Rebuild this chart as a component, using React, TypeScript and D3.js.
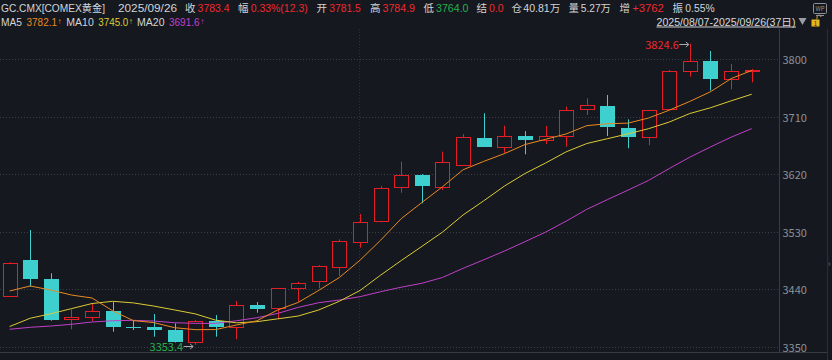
import React from 'react';
import * as d3 from 'd3';

const W = 832;
const H = 360;

// ---- data ----
const dates = ['08/07','08/08','08/11','08/12','08/13','08/14','08/15','08/18','08/19','08/20','08/21','08/22','08/25','08/26','08/27','08/28','08/29','09/01','09/02','09/03','09/04','09/05','09/08','09/09','09/10','09/11','09/12','09/15','09/16','09/17','09/18','09/19','09/22','09/23','09/24','09/25','09/26'];
const opens = [3430.2,3486.1,3456.3,3393.3,3397.4,3406.3,3381.7,3381.3,3376.6,3357.3,3390.6,3381.7,3415.7,3410.5,3441.8,3452.7,3475.6,3513.7,3546.6,3599.8,3619.0,3600.7,3635.1,3676.9,3662.4,3680.0,3673.3,3680.5,3721.8,3727.0,3692.1,3678.0,3721.8,3782.2,3796.9,3768.7,3781.5];
const highs = [3482.5,3533.0,3465.3,3409.0,3418.3,3420.8,3391.1,3401.6,3387.0,3392.2,3400.0,3422.0,3420.3,3442.5,3452.0,3478.2,3518.4,3558.0,3601.8,3639.8,3620.5,3655.5,3683.0,3715.5,3696.1,3687.8,3695.7,3725.9,3739.0,3744.2,3706.1,3721.0,3783.3,3824.6,3813.0,3792.6,3784.9];
const lows = [3428.5,3444.3,3391.0,3377.7,3390.6,3373.9,3376.6,3366.1,3357.0,3353.4,3366.1,3362.0,3403.6,3393.3,3420.8,3441.8,3461.0,3505.3,3545.0,3591.3,3574.8,3595.6,3634.0,3663.0,3653.0,3651.4,3667.5,3663.3,3712.9,3680.0,3660.8,3665.5,3721.0,3772.8,3750.9,3753.1,3764.0];
const closes = [3480.9,3456.3,3392.2,3397.4,3406.3,3380.8,3379.7,3376.6,3357.8,3390.6,3381.7,3415.2,3409.9,3441.8,3450.1,3476.2,3515.8,3545.0,3598.2,3619.0,3602.3,3638.9,3678.0,3663.3,3679.6,3673.3,3680.0,3720.2,3728.0,3694.6,3678.0,3720.2,3781.2,3796.9,3769.7,3781.2,3783.4];

// moving-average values before the window fills
const ma5Head = [3437.6,3445.4,3439.1,3431.3];
const ma10Head = [3382.0,3395.0,3402.0,3410.0,3418.0,3421.5,3419.0,3414.0,3408.0];
const ma20Head = [3377.7,3380.8,3382.8,3385.5,3389.1,3391.1,3391.7,3390.6,3388.0,3387.0,3387.0,3391.0,3395.8,3402.5,3412.0,3419.3,3423.5,3428.7,3436.5];

const yTicks = [3350, 3440, 3530, 3620, 3710, 3800];
const monthStart = '09/01';

const header1Texts = ['GC.CMX[COMEX黄金]','2025/09/26','收','3783.4','幅','0.33%(12.3)','开','3781.5','高','3784.9','低','3764.0','结','0.0','仓','40.81万','量','5.27万','增','+3762','振','0.55%'];
const header2Texts = ['MA5','3782.1','↑','MA10','3745.0','↑','MA20','3691.6','↑'];
const rangeText = '2025/08/07-2025/09/26(37日)';
const maxLabel = '3824.6';
const minLabel = '3353.4';

// ---- layout / styles ----
const header1Layout = [
  { x: 1, w: 104, c: 'label', fs: 10.5 }, { x: 118, w: 59, c: 'label', fs: 10.5 },
  { x: 185, w: 0, c: 'label', fs: 10.5 }, { x: 197.6, w: 32, c: 'up', fs: 10.5 },
  { x: 238, w: 0, c: 'label', fs: 10.5 }, { x: 250.7, w: 57, c: 'up', fs: 10.5 },
  { x: 316.5, w: 0, c: 'label', fs: 10.5 }, { x: 329.3, w: 31.5, c: 'up', fs: 10.5 },
  { x: 370, w: 0, c: 'label', fs: 10.5 }, { x: 382.5, w: 32.5, c: 'up', fs: 10.5 },
  { x: 423.5, w: 0, c: 'label', fs: 10.5 }, { x: 436, w: 32.5, c: 'down', fs: 10.5 },
  { x: 476.5, w: 0, c: 'label', fs: 10.5 }, { x: 489, w: 14.5, c: 'up', fs: 10.5 },
  { x: 511.5, w: 0, c: 'label', fs: 10.5 }, { x: 523.3, w: 37, c: 'label', fs: 10.5 },
  { x: 568.5, w: 0, c: 'label', fs: 10.5 }, { x: 580.8, w: 30, c: 'label', fs: 10.5 },
  { x: 619.5, w: 0, c: 'label', fs: 10.5 }, { x: 632.3, w: 31.5, c: 'up', fs: 10.5 },
  { x: 672.5, w: 0, c: 'label', fs: 10.5 }, { x: 685.3, w: 29.3, c: 'label', fs: 10.5 },
];
const header2Layout = [
  { x: 1, w: 21, c: 'label', fs: 10.5 }, { x: 26.5, w: 30.5, c: 'ma5', fs: 10.5 }, { x: 57.6, w: 4, c: 'ma5', fs: 8 },
  { x: 66.3, w: 27.5, c: 'label', fs: 10.5 }, { x: 98.3, w: 30, c: 'ma10', fs: 10.5 }, { x: 128.8, w: 4, c: 'ma10', fs: 8 },
  { x: 137, w: 27.5, c: 'label', fs: 10.5 }, { x: 169, w: 30.5, c: 'ma20', fs: 10.5 }, { x: 200.2, w: 4, c: 'ma20', fs: 8 },
];

const BG = '#15181e';
const UP = '#e41e26';
const DOWN = '#3ecfcf';
const GRID = '#3a3e46';
const AXIS = '#383c43';
const COLORS: Record<string, string> = {
  label: '#d2d4d8',
  up: '#f0282f',
  down: '#22b24c',
  ma5: '#ea8a22',
  ma10: '#dccb34',
  ma20: '#c040c8',
};
const FONT = '"Noto Sans CJK SC", "Noto Sans", sans-serif';
const HFONT = '"Liberation Sans", "Noto Sans CJK SC", sans-serif';

function movingAvg(head: number[], n: number): number[] {
  return closes.map((_, i) =>
    i < head.length ? head[i] : (d3.mean(closes.slice(i - n + 1, i + 1)) as number)
  );
}

function HeaderText({ t, x, y, w, c, fs }: { t: string; x: number; y: number; w: number; c: string; fs: number }) {
  const extra = w > 0 ? { textLength: w, lengthAdjust: 'spacingAndGlyphs' } : {};
  return (
    <text x={x} y={y} fontSize={fs} fontFamily={HFONT} fill={COLORS[c]} dominantBaseline="central" {...(extra as any)}>
      {t}
    </text>
  );
}

export default function App() {
  const x = d3.scalePoint<string>().domain(dates).range([9.6, 751.7]);
  const y = d3.scaleLinear().domain([3350, 3800]).range([347, 59.3]);
  const bw = x.step() * 0.74;

  const ma5 = movingAvg(ma5Head, 5);
  const ma10 = movingAvg(ma10Head, 10);
  const ma20 = movingAvg(ma20Head, 20);

  const line = d3
    .line<number>()
    .x((_, i) => x(dates[i]) as number)
    .y((d) => y(d));

  const iMax = d3.maxIndex(highs);
  const iMin = d3.minIndex(lows);
  const maxX = x(dates[iMax]) as number;
  const maxY = y(highs[iMax]);
  const minX = x(dates[iMin]) as number;
  const minY = y(lows[iMin]);

  const plotRight = 779.5;

  return (
    <svg
      width={W}
      height={H}
      style={{ position: 'absolute', left: 0, top: 0, display: 'block' }}
      fontFamily={FONT}
    >
      <rect x={0} y={0} width={W} height={H} fill={BG} />

      {/* header */}
      {header1Texts.map((t, i) => (
        <HeaderText key={'h1' + i} t={t} y={7.5} {...header1Layout[i]} />
      ))}
      {header2Texts.map((t, i) => (
        <HeaderText key={'h2' + i} t={t} y={21.5} {...header2Layout[i]} />
      ))}
      <text x={656.5} y={21.5} fontSize={10.5} fontFamily={HFONT} fill="#d6d8dc" dominantBaseline="central" textLength={139} lengthAdjust="spacingAndGlyphs">
        {rangeText}
      </text>
      <line x1={656.5} x2={796} y1={27} y2={27} stroke="#c8cacf" strokeWidth={1} />
      <path d="M798.5,18 L806.5,18 L802.5,25 Z" fill="#9a9da3" />
      {/* lock icon */}
      <rect x={811.5} y={19.5} width={8} height={7} fill="#e8b422" />
      <text x={815.5} y={23.3} fontSize={6} fill="#3a2a00" textAnchor="middle" dominantBaseline="central">1</text>
      <path d="M817,19.5 V17 a2,2 0 0 1 4,0" fill="none" stroke="#c9a03a" strokeWidth={1} />
      {/* WP icon */}
      <rect x={813.5} y={3.5} width={13} height={10} fill="none" stroke="#8e9298" strokeWidth={1} rx={1} />
      <text x={820} y={8.7} fontSize={6} fill="#8e9298" textAnchor="middle" dominantBaseline="central">WP</text>
      <line x1={816} x2={824} y1={15.5} y2={15.5} stroke="#8e9298" strokeWidth={1} />

      {/* frame lines */}
      <line x1={plotRight} x2={plotRight} y1={29} y2={352.5} stroke={AXIS} strokeWidth={1} />
      <line x1={0} x2={827.5} y1={352.5} y2={352.5} stroke={AXIS} strokeWidth={1} />
      <line x1={827.5} x2={827.5} y1={29} y2={H} stroke="#2b2e34" strokeWidth={1} />

      {/* grid */}
      {yTicks.map((t) => (
        <g key={'g' + t}>
          <line
            x1={0}
            x2={plotRight}
            y1={Math.round(y(t)) + 0.5}
            y2={Math.round(y(t)) + 0.5}
            stroke={GRID}
            strokeDasharray="1,2"
            strokeWidth={1}
          />
          <text x={782.5} y={y(t)} fontSize={11} fill="#8c9098" dominantBaseline="central">
            {t}
          </text>
        </g>
      ))}
      <line
        x1={Math.round(x(monthStart) as number) - 0.5}
        x2={Math.round(x(monthStart) as number) - 0.5}
        y1={29}
        y2={352}
        stroke="#2f3239"
        strokeDasharray="1,2"
        strokeWidth={1}
      />

      {/* candles */}
      {dates.map((d, i) => {
        const cx = Math.round(x(d) as number) + 0.5;
        const o = opens[i];
        const c = closes[i];
        const up = c >= o;
        const col = up ? UP : DOWN;
        const top = y(Math.max(o, c));
        const bot = y(Math.min(o, c));
        const left = Math.round(cx - bw / 2) + 0.5;
        const w = Math.round(bw) - 1;
        return (
          <g key={'c' + i}>
            <line x1={cx} x2={cx} y1={y(highs[i])} y2={y(lows[i])} stroke={col} strokeWidth={1} />
            {up ? (
              <rect
                x={left}
                y={Math.round(top) + 0.5}
                width={w}
                height={Math.max(1, Math.round(bot) - Math.round(top))}
                fill={BG}
                stroke={col}
                strokeWidth={1}
              />
            ) : (
              <rect
                x={left - 0.5}
                y={Math.round(top)}
                width={w + 1}
                height={Math.max(1, Math.round(bot) - Math.round(top))}
                fill={col}
              />
            )}
          </g>
        );
      })}

      {/* moving averages */}
      <path d={line(ma20) || ''} fill="none" stroke={COLORS.ma20} strokeWidth={1} />
      <path d={line(ma10) || ''} fill="none" stroke={COLORS.ma10} strokeWidth={1} />
      <path d={line(ma5) || ''} fill="none" stroke={COLORS.ma5} strokeWidth={1} />

      {/* max / min annotations */}
      <text x={maxX - 11} y={maxY} fontSize={11} fill={COLORS.up} textAnchor="end" dominantBaseline="central">
        {maxLabel}
      </text>
      <line x1={maxX - 10.5} x2={maxX - 1} y1={Math.round(maxY) + 0.5} y2={Math.round(maxY) + 0.5} stroke="#a8abb0" strokeWidth={1} />
      <path d={`M${maxX - 4},${Math.round(maxY) - 2} L${maxX - 1},${Math.round(maxY) + 0.5} L${maxX - 4},${Math.round(maxY) + 3}`} fill="none" stroke="#a8abb0" strokeWidth={1} />

      <text x={minX - 12} y={minY + 1} fontSize={11} fill={COLORS.down} textAnchor="end" dominantBaseline="central">
        {minLabel}
      </text>
      <line x1={minX - 11.5} x2={minX - 2} y1={Math.round(minY) + 1.5} y2={Math.round(minY) + 1.5} stroke="#a8abb0" strokeWidth={1} />
      <path d={`M${minX - 5},${Math.round(minY) - 1} L${minX - 2},${Math.round(minY) + 1.5} L${minX - 5},${Math.round(minY) + 4}`} fill="none" stroke="#a8abb0" strokeWidth={1} />

      <text x={829} y={263} fontSize={9} fill="#6a6e75" textAnchor="middle" dominantBaseline="central">›</text>
    </svg>
  );
}
